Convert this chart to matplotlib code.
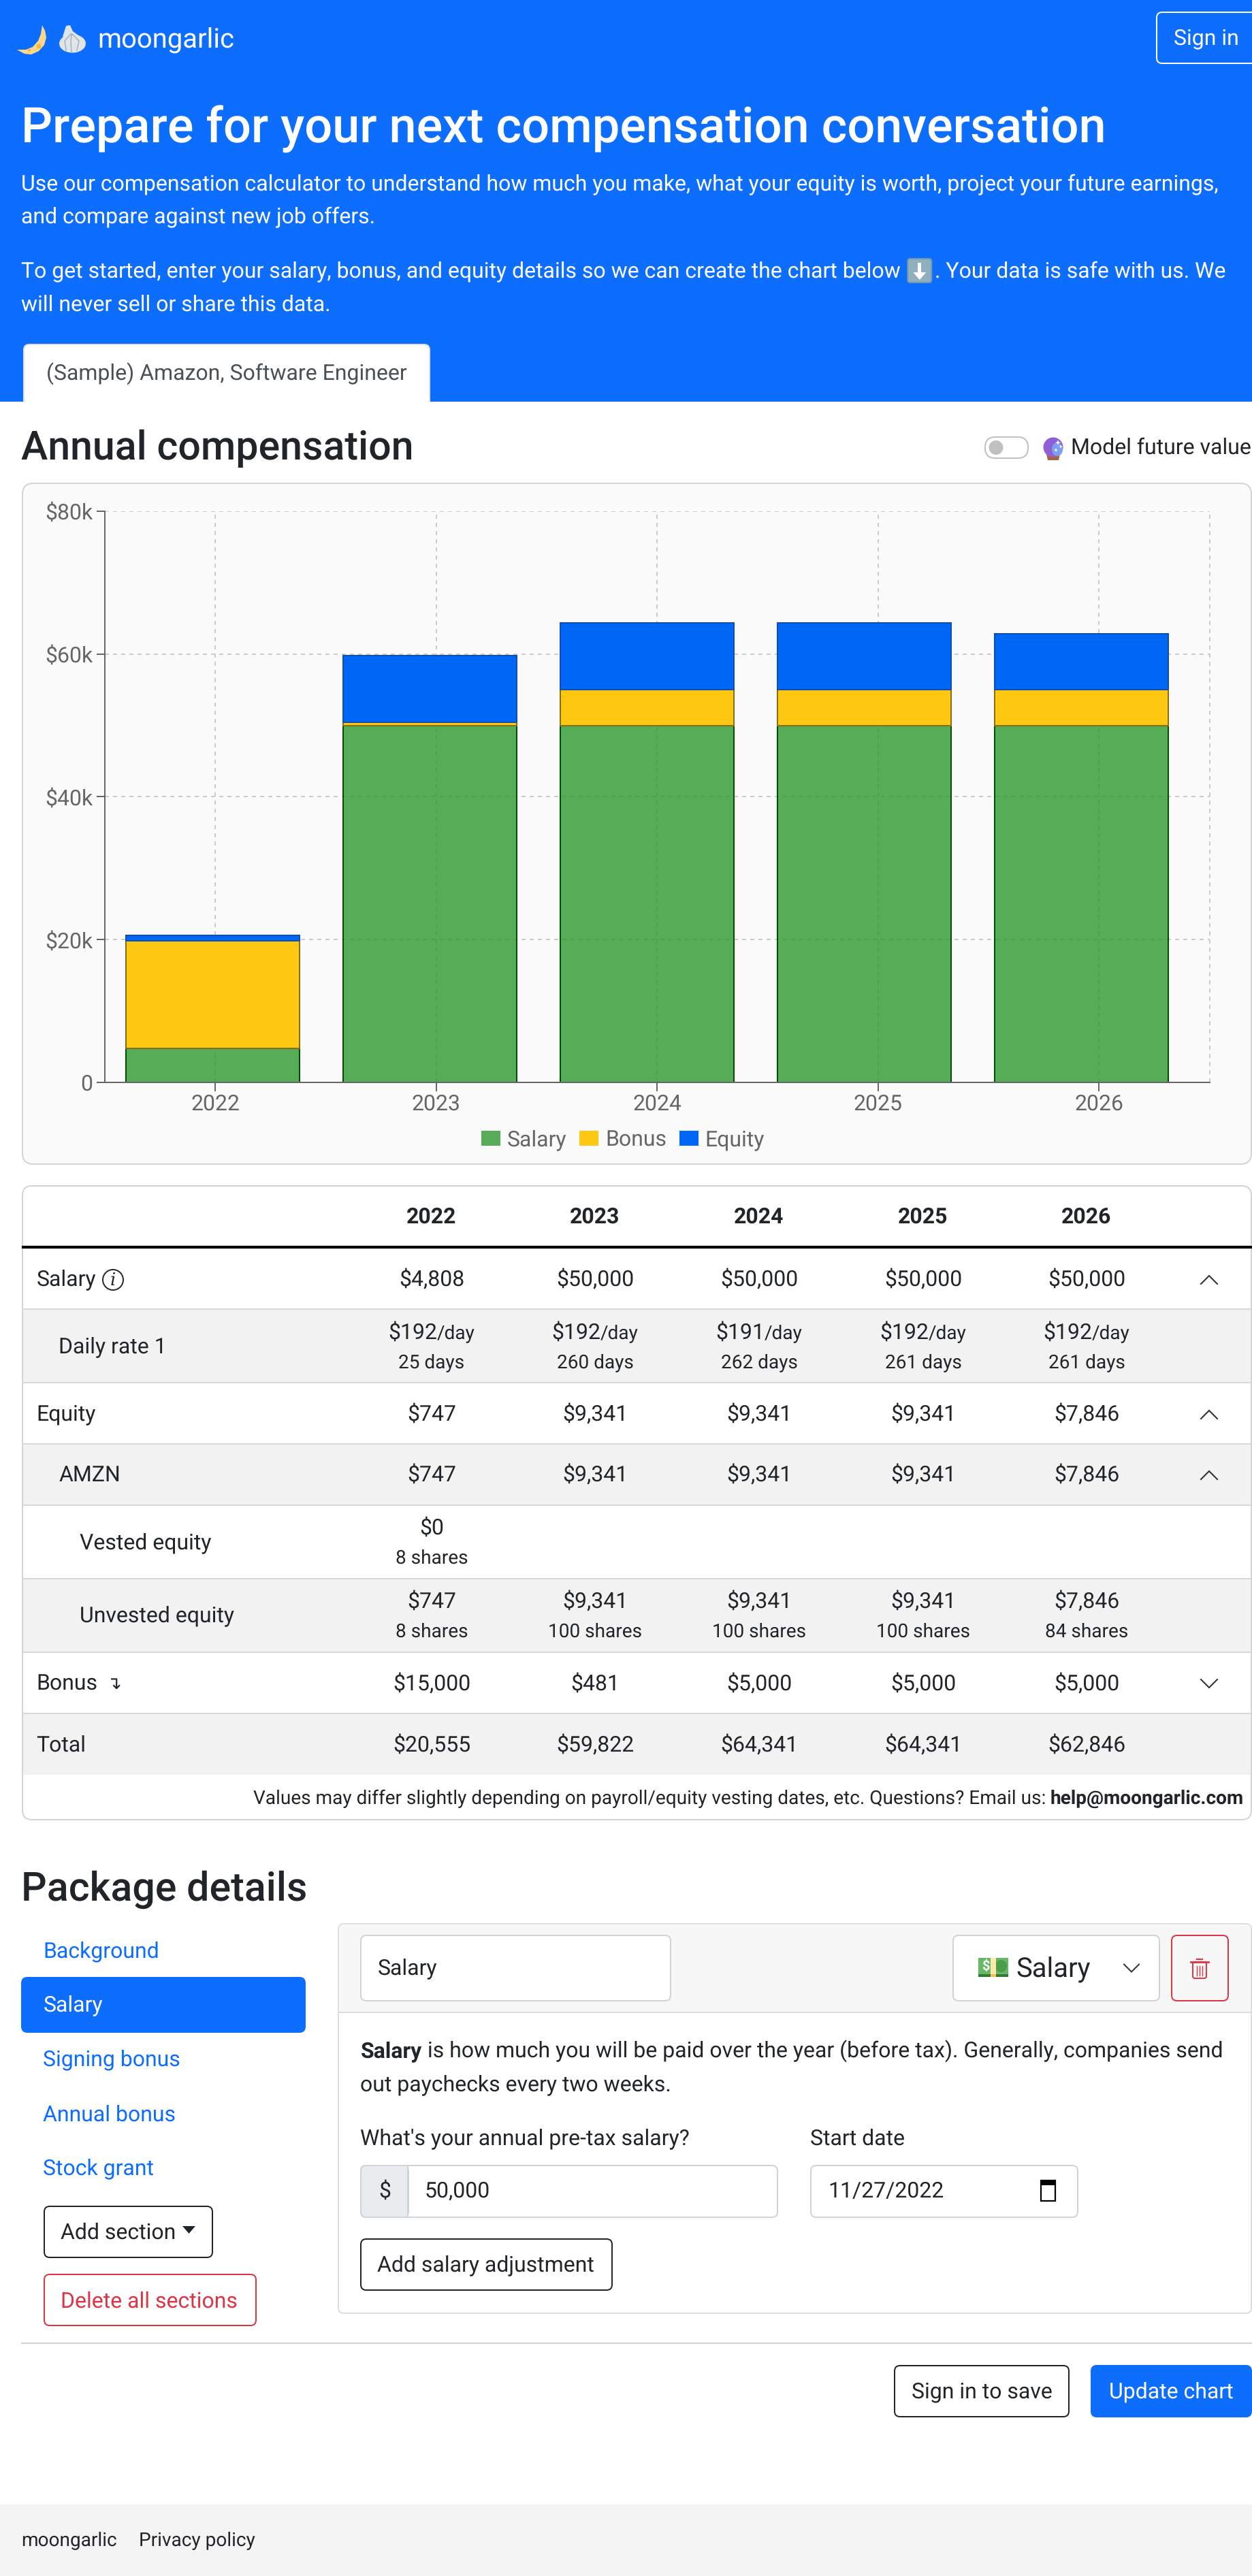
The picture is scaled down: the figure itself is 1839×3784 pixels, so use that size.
"""Compensation calculator page with the annual compensation chart"""

import matplotlib
matplotlib.use('Agg')
from matplotlib import pyplot as plt
from matplotlib.patches import Circle, Ellipse, FancyBboxPatch, Polygon, Rectangle
from matplotlib.ticker import FuncFormatter
import numpy as np

plt.rcParams['font.family'] = ['Roboto', 'DejaVu Sans']
plt.rcParams['text.hinting'] = 'no_hinting'
plt.rcParams['text.hinting_factor'] = 1

# Chart data
years = [2022, 2023, 2024, 2025, 2026]
salary = [4808, 50000, 50000, 50000, 50000]
bonus = [15000, 481, 5000, 5000, 5000]
equity = [747, 9341, 9341, 9341, 7846]
y_ticks = [0, 20000, 40000, 60000, 80000]

# Table data
salary_row = ['$4,808', '$50,000', '$50,000', '$50,000', '$50,000']
daily_rate = ['$192', '$192', '$191', '$192', '$192']
daily_days = ['25 days', '260 days', '262 days', '261 days', '261 days']
equity_row = ['$747', '$9,341', '$9,341', '$9,341', '$7,846']
unvested_shares = ['8 shares', '100 shares', '100 shares', '100 shares', '84 shares']
bonus_row = ['$15,000', '$481', '$5,000', '$5,000', '$5,000']
total_row = ['$20,555', '$59,822', '$64,341', '$64,341', '$62,846']

BLUE = '#0d6efd'
DARK = '#212529'
RED = '#dc3545'
GREY = '#666666'
BORDER = '#ced4da'
COLUMNS = [634, 874, 1115, 1356, 1596]

fig = plt.figure(figsize=(18.4, 37.84), dpi=100, facecolor='white')
page = fig.add_axes([0, 0, 1, 1])
page.set_xlim(0, 1840)
page.set_ylim(3784, 0)
page.axis('off')


def text(x, y, s, size=32, color=DARK, ha='left', weight='normal', zorder=5):
    # y is the middle of the line, size is in device pixels
    if ha == 'left':
        x -= 1.5
    return page.text(x, y + 0.33 * size - 1, s, fontsize=size * 0.72 * 0.997, color=color,
                     ha=ha, va='baseline', fontweight=weight, zorder=zorder)


def box(x0, y0, x1, y1, face='white', edge=BORDER, r=8, lw=2, zorder=2):
    patch = FancyBboxPatch((x0, y0), x1 - x0, y1 - y0,
                           boxstyle=f'round,pad=0,rounding_size={r}',
                           facecolor=face, edgecolor=edge, linewidth=lw * 0.72,
                           zorder=zorder)
    page.add_patch(patch)
    return patch


def rect(x0, y0, x1, y1, color, zorder=1):
    page.add_patch(Rectangle((x0, y0), x1 - x0, y1 - y0, facecolor=color,
                             edgecolor='none', zorder=zorder))


def text_width(t):
    return t.get_window_extent(fig.canvas.get_renderer()).width


def chevron(x, y, up=True, size=12, color='#333333'):
    d = -size / 2 if up else size / 2
    page.plot([x - size, x, x + size], [y - d, y + d, y - d], color=color,
              lw=1.5, zorder=5, solid_joinstyle='miter')


def sparkle(x, y, s):
    page.add_patch(Polygon([(x, y - s), (x + s / 4, y - s / 4), (x + s, y), (x + s / 4, y + s / 4),
                            (x, y + s), (x - s / 4, y + s / 4), (x - s, y), (x - s / 4, y - s / 4)],
                           facecolor='white', edgecolor='none', zorder=4.5))


# Header
rect(0, 0, 1840, 590, BLUE, zorder=0.5)
# moon and garlic emoji
page.add_patch(Polygon([(62, 37), (66, 45), (68, 55), (65, 66), (57, 75), (46, 80), (36, 79),
                        (25, 73), (38, 73), (48, 69), (56, 60), (60, 50)],
                       facecolor='#fdd888', edgecolor='none', zorder=3))
page.add_patch(Circle((57, 68), 3.5, facecolor='#f4b93e', edgecolor='none', zorder=3.1))
page.add_patch(Circle((43, 74), 2, facecolor='#f4b93e', edgecolor='none', zorder=3.1))
page.add_patch(Ellipse((106.5, 64), 39, 27, facecolor='#dfe5eb', edgecolor='none', zorder=3))
page.add_patch(Polygon([(97, 38), (103, 37), (107, 46), (118, 54), (92, 54)],
                       facecolor='#dfe5eb', edgecolor='none', zorder=3))
page.plot([104, 95, 97], [50, 60, 74], color='#a9b6bd', lw=1.2, zorder=3.1)
page.plot([105, 104, 105], [50, 62, 76], color='#a9b6bd', lw=1.2, zorder=3.1)
page.plot([106, 116, 113], [50, 60, 74], color='#a9b6bd', lw=1.2, zorder=3.1)
text(145, 57, 'moongarlic', size=40, color='white')
box(1699, 18, 1860, 93, face=BLUE, edge='white', r=8, zorder=1)
text(1772, 56, 'Sign in', size=32, color='white', ha='center')
text(33, 187, 'Prepare for your next compensation conversation', size=72,
     color='white', weight='medium')
text(33, 271, 'Use our compensation calculator to understand how much you make, '
     'what your equity is worth, project your future earnings,', color='white')
text(33, 319, 'and compare against new job offers.', color='white')
line = text(33, 398, 'To get started, enter your salary, bonus, and equity details '
            'so we can create the chart below', color='white')
arrow_x = 31.5 + text_width(line) + 10
box(arrow_x, 380, arrow_x + 35, 415, face='#90afbf', edge='#6f9bb0', r=4, zorder=3)
page.add_patch(Rectangle((arrow_x + 15, 386), 5, 16, facecolor='white', edgecolor='none', zorder=4))
page.add_patch(Polygon([(arrow_x + 8, 400), (arrow_x + 27, 400), (arrow_x + 17.5, 411)],
                       facecolor='white', edgecolor='none', zorder=4))
text(arrow_x + 41, 398, '. Your data is safe with us. We', color='white')
text(33, 447, 'will never sell or share this data.', color='white')
box(35, 506, 631, 620, r=8, edge='#dee2e6', zorder=1)
rect(0, 590, 1840, 3784, 'white', zorder=1.5)
rect(36, 570, 630, 594, 'white', zorder=1.6)
text(333, 549, '(Sample) Amazon, Software Engineer', color='#495057', ha='center')

# Chart heading
text(33, 657, 'Annual compensation', size=59, weight='medium')
box(1447, 642, 1510, 673, r=15, edge='#c0c0c0', zorder=3)
page.add_patch(Circle((1463, 657.5), 10.5, facecolor='#c0c0c0', edgecolor='none', zorder=4))
page.add_patch(Polygon([(1537, 667), (1557, 667), (1555, 676), (1539, 676)],
                       facecolor='#a5673f', edgecolor='none', zorder=4))
page.add_patch(Circle((1547, 657), 14.5, facecolor='#8f5fd6', edgecolor='none', zorder=4.1))
page.add_patch(Ellipse((1553, 660), 16, 20, facecolor='#7f9fee', edgecolor='none', zorder=4.2))
sparkle(1554, 650, 4)
sparkle(1558, 656, 3)
sparkle(1551, 661, 3)
text(1575, 657, 'Model future value')

# Chart card
box(33, 710, 1838, 1710, face='#fafafa', edge='#d4d4d4', r=16, zorder=3)

ax = fig.add_axes([154 / 1840, 1 - 1590 / 3784, (1777 - 154) / 1840, (1590 - 751) / 3784],
                  zorder=2)
ax.patch.set_alpha(0)
positions = np.arange(len(years))
bar_width = 0.797
salary_bars = ax.bar(positions, salary, bar_width, color=(0.18, 0.604, 0.18, 0.8),
                     edgecolor='#004f00', linewidth=1.44, label='Salary', zorder=3)
bonus_bars = ax.bar(positions, bonus, bar_width, bottom=salary, color='#ffc813',
                    edgecolor='#8a6d10', linewidth=1.44, label='Bonus', zorder=3)
equity_bars = ax.bar(positions, equity, bar_width,
                     bottom=np.array(salary) + np.array(bonus), color='#0066f5',
                     edgecolor='#0f4fb0', linewidth=1.44, label='Equity', zorder=3)
ax.set_xlim(-0.497, 4.591)
ax.set_ylim(0, 80000)
# the year ticks sit on a slightly wider scale than the bars
ax.set_xticks([0.011 + 1.0176 * i for i in range(len(years))], labels=years)
ax.set_yticks(y_ticks)
ax.yaxis.set_major_formatter(FuncFormatter(lambda v, _: f'${v / 1000:.0f}k' if v else '0'))
ax.grid(True, color='#cccccc', linewidth=1.44, linestyle=(0, (3, 3)), zorder=1)
ax.axvline(4.591, color='#cccccc', linewidth=1.44, linestyle=(0, (3, 3)), zorder=1,
           clip_on=False)
ax.set_axisbelow(True)
for side in ['top', 'right']:
    ax.spines[side].set_visible(False)
for side in ['left', 'bottom']:
    ax.spines[side].set_color(GREY)
    ax.spines[side].set_linewidth(1.44)
    ax.spines[side].set_zorder(4)
ax.tick_params(axis='both', length=9, width=1.44, color=GREY, labelcolor=GREY,
               labelsize=23.04, pad=3.6)
ax.tick_params(axis='x', pad=3)
ax.legend(handles=[salary_bars, bonus_bars, equity_bars], loc='center', frameon=False,
          ncol=3, fontsize=23.04, labelcolor=GREY, handlelength=0.875, handleheight=0.69,
          handletextpad=0.3, columnspacing=0.6,
          bbox_to_anchor=(915 / 1840, 1 - 1675 / 3784), bbox_transform=fig.transFigure)
for handle in ax.get_legend().get_patches():
    handle.set_edgecolor('none')

# Table card
box(33, 1742, 1838, 2673, r=14, edge='#d4d4d4', zorder=3)
for y0, y1 in [(1923, 2031), (2121, 2211), (2319, 2427), (2517, 2607)]:
    rect(34, y0, 1837, y1, '#f2f2f2', zorder=3.1)
for y in [1923, 2031, 2121, 2211, 2319, 2427, 2517]:
    page.plot([34, 1837], [y, y], color='#d8d8d8', lw=1.44, zorder=3.2)
page.plot([34, 1837], [1832, 1832], color='black', lw=3, zorder=3.2)


def row(y, label, values, indent=55):
    text(indent, y, label)
    for x, v in zip(COLUMNS, values):
        text(x, y, v, ha='center')


for x, year in zip(COLUMNS, years):
    text(x, 1787, str(year), ha='center', weight='bold')
row(1879, 'Salary', salary_row)
page.add_patch(Circle((166, 1880), 15, facecolor='none', edgecolor=DARK, lw=1.4, zorder=5))
info = text(166, 1880, 'i', size=26, ha='center')
info.set_fontfamily('DejaVu Serif')
info.set_fontstyle('italic')
chevron(1776, 1880)

text(88, 1978, 'Daily rate 1')
for x, rate, days in zip(COLUMNS, daily_rate, daily_days):
    left = text(x, 1957, rate)
    right = text(x, 1958, '/day', size=28)
    w1, w2 = text_width(left), text_width(right)
    left.set_x(x - (w1 + w2) / 2)
    right.set_x(x - (w1 + w2) / 2 + w1)
    text(x, 2001, days, size=28, ha='center')

row(2077, 'Equity', equity_row)
chevron(1776, 2078)
row(2166, 'AMZN', equity_row, indent=88)
chevron(1776, 2167)

text(119, 2266, 'Vested equity')
text(COLUMNS[0], 2244, '$0', ha='center')
text(COLUMNS[0], 2288, '8 shares', size=28, ha='center')

text(119, 2373, 'Unvested equity')
for x, v, shares in zip(COLUMNS, equity_row, unvested_shares):
    text(x, 2352, v, ha='center')
    text(x, 2396, shares, size=28, ha='center')

row(2473, 'Bonus', bonus_row)
text(168, 2473, '\u21b4', size=26, ha='center')
chevron(1776, 2473, up=False)
row(2563, 'Total', total_row)

note = text(1827, 2642, 'help@moongarlic.com', size=28, ha='right', weight='bold')
text(1827 - text_width(note), 2642,
     'Values may differ slightly depending on payroll/equity vesting dates, etc. '
     'Questions? Email us: ', size=28, ha='right')

# Package details
text(33, 2773, 'Package details', size=59, weight='medium')
box(32, 2905, 448, 2985, face=BLUE, edge=BLUE, r=8)
text(65, 2866, 'Background', color=BLUE)
text(65, 2945, 'Salary', color='white')
text(65, 3025, 'Signing bonus', color=BLUE)
text(65, 3106, 'Annual bonus', color=BLUE)
text(65, 3185, 'Stock grant', color=BLUE)
box(65, 3241, 312, 3316, edge=DARK)
text(91, 3279, 'Add section')
page.add_patch(Polygon([(268, 3270), (287, 3270), (277.5, 3281)], facecolor=DARK,
                       edgecolor='none', zorder=5))
box(65, 3341, 376, 3416, edge=RED)
text(91, 3380, 'Delete all sections', color=RED)

box(497, 2826, 1838, 3398, edge='#dedede', r=8)
rect(499, 2828, 1836, 2956, '#f7f7f7', zorder=2.1)
page.plot([498, 1838], [2956, 2956], color='#dedede', lw=1.44, zorder=2.2)
box(530, 2843, 985, 2939, zorder=3)
text(556, 2891, 'Salary')
box(1400, 2843, 1703, 2939, zorder=3)
# banknote emoji
page.add_patch(Rectangle((1437, 2876), 44, 24, facecolor='#66b866', edgecolor='none', zorder=5))
page.add_patch(Rectangle((1437, 2900), 44, 4, facecolor='#2e7d32', edgecolor='none', zorder=5))
page.add_patch(Circle((1470, 2888), 9, facecolor='#4a9e4a', edgecolor='none', zorder=5.05))
page.add_patch(Rectangle((1455, 2876), 8, 24, facecolor='#ffe9a8', edgecolor='none', zorder=5.1))
page.add_patch(Rectangle((1455, 2900), 8, 4, facecolor='#ffbc5a', edgecolor='none', zorder=5.1))
text(1448, 2888, '$', size=20, color='white', ha='center', weight='bold', zorder=5.2)
text(1494, 2891, 'Salary', size=40)
chevron(1662, 2891, up=False, size=11, color='#343a40')
box(1721, 2843, 1804, 2939, face='#f7f7f7', edge=RED, zorder=3)
page.add_patch(FancyBboxPatch((1752, 2882), 20, 24, boxstyle='round,pad=0,rounding_size=3',
                              facecolor='none', edgecolor=RED, lw=1.4, zorder=5))
page.plot([1749, 1775], [2882, 2882], color=RED, lw=2, zorder=5)
page.plot([1758, 1766], [2878, 2878], color=RED, lw=1.6, zorder=5)
for x in [1758, 1762, 1766]:
    page.plot([x, x], [2888, 2902], color=RED, lw=1, zorder=5)

lead = text(531, 3013, 'Salary', weight='bold')
text(531 + text_width(lead), 3013, ' is how much you will be paid over the year (before tax). '
     'Generally, companies send')
text(531, 3062, 'out paychecks every two weeks.')
text(531, 3141, "What's your annual pre-tax salary?")
text(1192, 3141, 'Start date')
box(530, 3181, 1142, 3257, zorder=3)
box(530, 3181, 600, 3257, face='#e9ecef', zorder=3.1)
rect(590, 3182, 599, 3256, '#e9ecef', zorder=3.2)
page.plot([599, 599], [3182, 3256], color=BORDER, lw=1.44, zorder=3.3)
text(565, 3218, '$', ha='center')
text(625, 3218, '50,000')
box(1191, 3181, 1583, 3257, zorder=3)
text(1218, 3218, '11/27/2022')
page.add_patch(Rectangle((1529, 3203), 21, 30, facecolor='white', edgecolor='black', lw=1.6, zorder=5))
page.add_patch(Rectangle((1529, 3203), 21, 7, facecolor='black', edgecolor='none', zorder=5))
box(530, 3289, 899, 3364, edge=DARK)
text(556, 3327, 'Add salary adjustment')

page.plot([32, 1840], [3442, 3442], color='#d4d4d4', lw=1.44, zorder=2)
box(1314, 3475, 1570, 3550, edge=DARK)
text(1442, 3513, 'Sign in to save', ha='center')
box(1603, 3475, 1838, 3550, face=BLUE, edge=BLUE)
text(1720, 3513, 'Update chart', color='white', ha='center')

# Footer
rect(0, 3679, 1840, 3784, '#f4f4f4', zorder=2.6)
text(33, 3731, 'moongarlic', size=28)
text(206, 3731, 'Privacy policy', size=28)

fig.savefig('out.png', dpi=100)
